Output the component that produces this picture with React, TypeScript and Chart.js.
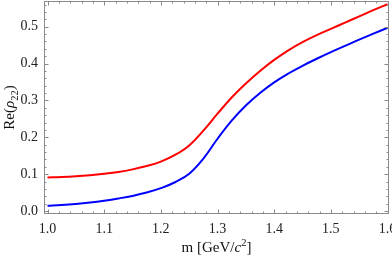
import { useEffect, useRef } from 'react';
import { Chart, registerables } from 'chart.js';

Chart.register(...registerables);

// Data
const mValues = [
  1.0, 1.025, 1.05, 1.075, 1.1, 1.125, 1.15, 1.175, 1.2, 1.225, 1.25, 1.275, 1.3,
  1.325, 1.35, 1.375, 1.4, 1.425, 1.45, 1.475, 1.5, 1.525, 1.55, 1.575, 1.6,
];
const redValues = [
  0.091, 0.092, 0.094, 0.097, 0.101, 0.106, 0.113, 0.122, 0.134, 0.152, 0.178, 0.218, 0.264,
  0.308, 0.346, 0.380, 0.410, 0.436, 0.458, 0.477, 0.494, 0.511, 0.528, 0.545, 0.561,
];
const blueValues = [
  0.014, 0.016, 0.019, 0.023, 0.028, 0.034, 0.041, 0.050, 0.062, 0.078, 0.101, 0.142, 0.196,
  0.245, 0.286, 0.320, 0.349, 0.373, 0.394, 0.413, 0.431, 0.448, 0.465, 0.481, 0.497,
];
const xTicks = [1.0, 1.1, 1.2, 1.3, 1.4, 1.5, 1.6];
const yTicks = [0.0, 0.1, 0.2, 0.3, 0.4, 0.5];
const X_MIN = 0.9938;
const X_MAX = 1.6026;
const Y_MIN = -0.0081;
const Y_MAX = 0.5697;
const MINOR_STEP = 0.02;

const SERIF = '"Liberation Serif", "Times New Roman", serif';
const FRAME = '#8a8a8a';

type Seg = { t: string; it?: boolean; sub?: boolean; sup?: boolean };

function drawRich(ctx: CanvasRenderingContext2D, segs: Seg[], size: number) {
  const fontFor = (s: Seg) =>
    `${s.it ? 'italic ' : ''}${s.sub || s.sup ? size * 0.7 : size}px ${SERIF}`;
  let total = 0;
  const widths = segs.map((s) => {
    ctx.font = fontFor(s);
    const w = ctx.measureText(s.t).width;
    total += w;
    return w;
  });
  let x = -total / 2;
  segs.forEach((s, i) => {
    ctx.font = fontFor(s);
    const dy = s.sub ? size * 0.28 : s.sup ? -size * 0.38 : 0;
    ctx.fillText(s.t, x, dy);
    x += widths[i];
  });
}

const framePlugin = {
  id: 'mmaFrame',
  afterDraw(chart: any) {
    const { ctx, chartArea } = chart;
    const { left, right, top, bottom } = chartArea;
    const xs = chart.scales.x;
    const ys = chart.scales.y;
    ctx.save();
    ctx.strokeStyle = FRAME;
    ctx.lineWidth = 1;
    ctx.strokeRect(left + 0.5, top + 0.5, right - left - 1, bottom - top - 1);
    ctx.beginPath();
    const nx = Math.round((xTicks[xTicks.length - 1] - xTicks[0]) / MINOR_STEP);
    for (let i = 0; i <= nx; i++) {
      const v = xTicks[0] + i * MINOR_STEP;
      const px = Math.round(xs.getPixelForValue(v)) + 0.5;
      const len = i % 5 === 0 ? 4.5 : 2.5;
      ctx.moveTo(px, bottom);
      ctx.lineTo(px, bottom - len);
      ctx.moveTo(px, top);
      ctx.lineTo(px, top + len);
    }
    const ny = Math.floor((Y_MAX - yTicks[0]) / MINOR_STEP + 1e-9);
    for (let i = 0; i <= ny; i++) {
      const v = yTicks[0] + i * MINOR_STEP;
      const py = Math.round(ys.getPixelForValue(v)) + 0.5;
      const len = i % 5 === 0 ? 4.5 : 2.5;
      ctx.moveTo(left, py);
      ctx.lineTo(left + len, py);
      ctx.moveTo(right, py);
      ctx.lineTo(right - len, py);
    }
    ctx.stroke();

    // axis titles
    ctx.fillStyle = '#111';
    ctx.textBaseline = 'alphabetic';
    ctx.textAlign = 'left';
    ctx.save();
    ctx.translate((left + right) / 2, 252);
    drawRich(
      ctx,
      [{ t: 'm [GeV/' }, { t: 'c', it: true }, { t: '2', sup: true }, { t: ']' }],
      15
    );
    ctx.restore();
    ctx.save();
    ctx.translate(14, (top + bottom) / 2);
    ctx.rotate(-Math.PI / 2);
    drawRich(
      ctx,
      [{ t: 'Re(' }, { t: 'ρ', it: true }, { t: '22', sub: true }, { t: ')' }],
      15
    );
    ctx.restore();
    ctx.restore();
  },
};

export default function App() {
  const ref = useRef<HTMLCanvasElement>(null);
  useEffect(() => {
    if (!ref.current) return;
    const chart = new Chart(ref.current, {
      type: 'line',
      data: {
        datasets: [
          {
            data: mValues.map((m, i) => ({ x: m, y: redValues[i] })),
            borderColor: '#ff0000',
            borderWidth: 2,
            pointRadius: 0,
            tension: 0.4,
            fill: false,
          },
          {
            data: mValues.map((m, i) => ({ x: m, y: blueValues[i] })),
            borderColor: '#0000ff',
            borderWidth: 2,
            pointRadius: 0,
            tension: 0.4,
            fill: false,
          },
        ],
      },
      options: {
        animation: false,
        responsive: true,
        maintainAspectRatio: false,
        layout: { padding: { top: 1, right: 3, left: 0, bottom: 0 } },
        plugins: { legend: { display: false }, tooltip: { enabled: false } },
        scales: {
          x: {
            type: 'linear',
            min: X_MIN,
            max: X_MAX,
            grid: { display: false, drawTicks: false, tickLength: 0 },
            border: { display: false },
            afterBuildTicks: (s: any) => {
              s.ticks = xTicks.map((v) => ({ value: v }));
            },
            afterFit: (s: any) => {
              s.height = 44;
              s.paddingLeft = 0;
              s.paddingRight = 0;
            },
            ticks: {
              padding: 7,
              color: '#222',
              autoSkip: false,
              maxRotation: 0,
              font: { family: SERIF, size: 14 },
              callback: (v: any) => Number(v).toFixed(1),
            },
          },
          y: {
            type: 'linear',
            min: Y_MIN,
            max: Y_MAX,
            grid: { display: false, drawTicks: false, tickLength: 0 },
            border: { display: false },
            afterBuildTicks: (s: any) => {
              s.ticks = yTicks.map((v) => ({ value: v }));
            },
            afterFit: (s: any) => {
              s.width = 44;
              s.paddingTop = 0;
              s.paddingBottom = 0;
            },
            ticks: {
              padding: 6,
              color: '#222',
              autoSkip: false,
              font: { family: SERIF, size: 14 },
              callback: (v: any) => Number(v).toFixed(1),
            },
          },
        },
      },
      plugins: [framePlugin],
    } as any);
    return () => chart.destroy();
  }, []);
  return (
    <div style={{ position: 'absolute', left: 0, top: 0, width: 392, height: 258 }}>
      <canvas ref={ref} />
    </div>
  );
}
